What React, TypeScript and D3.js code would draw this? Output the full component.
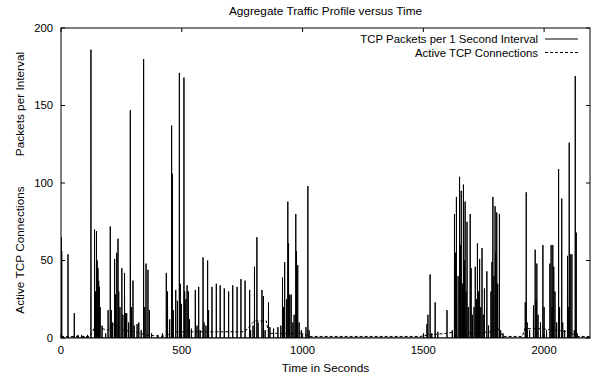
import * as d3 from "d3";

const W = 591;
const H = 377;
const margin = { top: 28, right: 1, bottom: 39, left: 61 };
const FONT = "'Liberation Sans', Arial, Helvetica, sans-serif";

// Packets per 1 second interval: time (s) and count of each burst
const spikeT = [
  1, 3, 29, 55, 70, 85, 95, 110, 124, 139, 143, 147, 150, 153, 156, 159, 162, 170, 185, 195,
  204, 208, 214, 222, 226, 231, 236, 239, 244, 252, 256, 263, 267, 272, 280, 287, 292, 298, 303, 315,
  322, 332, 342, 347, 352, 360, 366, 375, 400, 420, 436, 441, 450, 458, 461, 465, 475, 482, 490, 494,
  498, 509, 512, 517, 522, 527, 532, 540, 556, 563, 570, 576, 588, 592, 600, 607, 611, 625, 643, 659,
  676, 694, 711, 729, 745, 762, 781, 785, 795, 801, 811, 816, 832, 838, 845, 859, 865, 880, 898, 910,
  917, 921, 926, 934, 939, 942, 947, 953, 960, 965, 972, 975, 980, 986, 995, 1014, 1022, 1027,
  1501, 1515, 1519, 1528, 1535, 1549, 1560, 1598, 1620, 1629, 1633, 1637, 1644, 1650, 1654, 1657, 1662, 1666,
  1670, 1673, 1677, 1681, 1686, 1694, 1698, 1703, 1710, 1715, 1720, 1724, 1728, 1733, 1738, 1743, 1748, 1753,
  1763, 1770, 1780, 1784, 1788, 1792, 1797, 1800, 1804, 1808, 1815, 1820, 1830, 1922, 1926, 1930, 1940, 1956,
  1963, 1967, 1970, 1975, 1985, 1995, 2000, 2010, 2024, 2029, 2033, 2036, 2040, 2045, 2052, 2060, 2064, 2073,
  2077, 2085, 2097, 2100, 2104, 2108, 2115, 2125, 2129, 2133, 2137,
];
const spikeV = [
  65, 56, 54, 16, 2, 2, 1, 2, 186, 70, 30, 69, 50, 45, 37, 33, 20, 8, 3, 18,
  72, 18, 10, 51, 28, 55, 64, 30, 20, 45, 15, 42, 16, 16, 10, 147, 20, 37, 8, 9,
  10, 5, 180, 20, 48, 44, 18, 3, 2, 3, 42, 30, 12, 137, 106, 18, 31, 24, 171, 35,
  22, 168, 30, 25, 34, 30, 12, 6, 31, 8, 33, 5, 52, 10, 8, 50, 18, 33, 35, 34,
  32, 30, 34, 33, 38, 37, 31, 5, 8, 46, 65, 10, 31, 27, 5, 23, 7, 6, 7, 8,
  39, 20, 49, 25, 88, 61, 28, 28, 10, 15, 80, 56, 47, 10, 5, 7, 98, 5,
  3, 9, 15, 41, 3, 23, 4, 18, 5, 80, 55, 91, 40, 104, 60, 95, 35, 99,
  50, 88, 30, 75, 20, 80, 45, 15, 20, 46, 25, 61, 30, 51, 20, 58, 15, 32,
  43, 8, 30, 49, 91, 40, 85, 55, 81, 35, 80, 5, 3, 23, 94, 10, 5, 21,
  57, 25, 48, 15, 10, 60, 20, 5, 48, 60, 20, 60, 46, 30, 10, 109, 20, 90,
  10, 5, 53, 20, 126, 54, 54, 5, 169, 68, 3,
];

// Active TCP connections: breakpoints of the step-like profile
const connT = [
  0, 60, 120, 140, 150, 170, 195, 210, 240, 260, 300, 350, 420, 460, 480, 560, 640, 760, 800, 850,
  860, 1000, 1030, 1490, 1520, 1600, 1650, 1700, 1780, 1810, 1830, 1910, 1920, 1990, 2050, 2100, 2140, 2190,
];
const connV = [
  1, 1, 1, 7, 9, 6, 5, 9, 7, 5, 4, 2, 1, 3, 4, 4, 4, 4, 11, 11,
  3, 3, 1, 1, 2, 3, 5, 3, 4, 6, 1, 1, 6, 6, 5, 4, 1, 1,
];

const xTicks = [0, 500, 1000, 1500, 2000];
const yTicks = [0, 50, 100, 150, 200];

export default function App() {
  const x = d3.scaleLinear().domain([0, 2190]).range([margin.left, W - margin.right]);
  const y = d3.scaleLinear().domain([0, 200]).range([H - margin.bottom, margin.top]);

  const packetPts: [number, number][] = [[0, 0]];
  spikeT.forEach((t, i) => {
    packetPts.push([t - 0.5, 0], [t, spikeV[i]], [t + 0.5, 0]);
  });
  packetPts.push([2190, 0]);

  const line = d3.line<[number, number]>().x((d) => x(d[0])).y((d) => y(d[1]));
  const connPts: [number, number][] = connT.map((t, i) => [t, connV[i]]);

  const x0 = x(0), x1 = x(2190), y0 = y(0), y1 = y(200);
  const cx = (x0 + x1) / 2;

  return (
    <svg width={W} height={H} style={{ position: "absolute", left: 0, top: 0, background: "#fff" }}
      fontFamily={FONT} fontSize={11.8}>
      <defs>
        <clipPath id="plot"><rect x={x0} y={y1} width={x1 - x0} height={y0 - y1} /></clipPath>
      </defs>

      <text x={cx} y={15} textAnchor="middle">Aggregate Traffic Profile versus Time</text>

      {/* ticks and labels */}
      {yTicks.map((t) => (
        <g key={"y" + t}>
          <line x1={x0} x2={x0 + 4} y1={y(t)} y2={y(t)} stroke="#000" />
          <line x1={x1 - 4} x2={x1} y1={y(t)} y2={y(t)} stroke="#000" />
          <text x={x0 - 8} y={y(t)} dy="0.35em" textAnchor="end" fontSize={11.3}>{t}</text>
        </g>
      ))}
      {xTicks.map((t) => (
        <g key={"x" + t}>
          <line x1={x(t)} x2={x(t)} y1={y0} y2={y0 - 4} stroke="#000" />
          <line x1={x(t)} x2={x(t)} y1={y1} y2={y1 + 4} stroke="#000" />
          <text x={x(t)} y={y0 + 16} textAnchor="middle" fontSize={11.3}>{t}</text>
        </g>
      ))}

      <text x={cx} y={372} textAnchor="middle">Time in Seconds</text>
      <text transform={`translate(24,104) rotate(-90)`} textAnchor="middle">Packets per Interval</text>
      <text transform={`translate(24,250) rotate(-90)`} textAnchor="middle">Active TCP Connections</text>

      {/* series */}
      <g clipPath="url(#plot)">
        <path d={line(packetPts) ?? ""} fill="none" stroke="#000" strokeWidth={1} />
        <path d={line(connPts) ?? ""} fill="none" stroke="#000" strokeWidth={1} strokeDasharray="3,2" />
      </g>

      {/* legend */}
      <g fontSize={11.4}>
        <text x={538} y={43} textAnchor="end">TCP Packets per 1 Second Interval</text>
        <line x1={545} x2={578} y1={39} y2={39} stroke="#000" />
        <text x={538} y={56.5} textAnchor="end">Active TCP Connections</text>
        <line x1={545} x2={578} y1={52.5} y2={52.5} stroke="#000" strokeDasharray="3,2" />
      </g>

      <rect x={x0} y={y1} width={x1 - x0} height={y0 - y1} fill="none" stroke="#000" strokeWidth={1} />
    </svg>
  );
}
